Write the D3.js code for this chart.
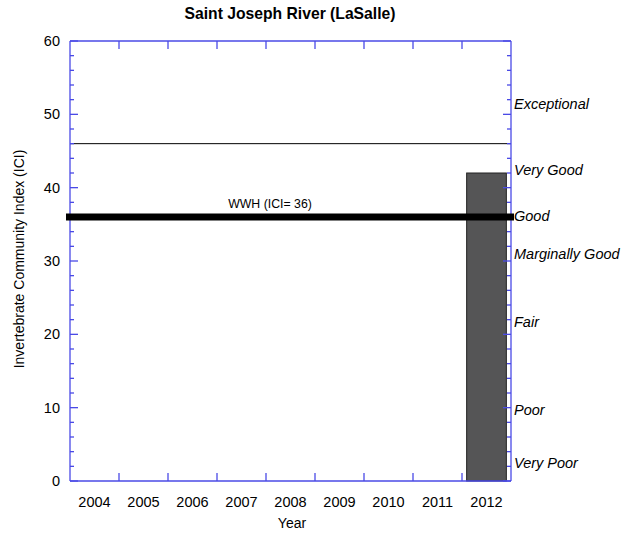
<!DOCTYPE html>
<html>
<head>
<meta charset="utf-8">
<script src="https://cdn.jsdelivr.net/npm/d3@7"></script>
<style>
body { margin: 0; background: #fff; font-family: "Liberation Sans", Arial, sans-serif; }
text { font-family: "Liberation Sans", Arial, sans-serif; }
</style>
</head>
<body>
<div id="chart"></div>
<script>
var years = ["2004", "2005", "2006", "2007", "2008", "2009", "2010", "2011", "2012"];
var iciValues = [null, null, null, null, null, null, null, null, 42];
var yTicks = [0, 10, 20, 30, 40, 50, 60];
var wwhValue = 36;
var exceptionalLine = 46;
var ratingLabels = ["Exceptional", "Very Good", "Good", "Marginally Good", "Fair", "Poor", "Very Poor"];
var ratingValues = [51.4, 42.4, 36.1, 31, 21.7, 9.7, 2.5];

var margin = {top: 41, right: 113, bottom: 59, left: 70},
    width = 624 - margin.left - margin.right,
    height = 540 - margin.top - margin.bottom;

var axisColor = "#4a4ae6";

var svg = d3.select("#chart").append("svg")
    .attr("width", 624)
    .attr("height", 540);

var g = svg.append("g")
    .attr("transform", "translate(" + margin.left + "," + margin.top + ")");

var x = d3.scaleBand()
    .domain(years)
    .range([0, width])
    .paddingInner(0)
    .paddingOuter(0);

var y = d3.scaleLinear()
    .domain([0, 60])
    .range([height, 0]);

// title
svg.append("text")
    .attr("x", 290)
    .attr("y", 19)
    .attr("text-anchor", "middle")
    .style("font-size", "15.7px")
    .style("font-weight", "bold")
    .text("Saint Joseph River (LaSalle)");

// bars
var bw = x.bandwidth() * 0.81;
g.selectAll(".bar")
    .data(years.map(function(d, i) { return {year: d, v: iciValues[i]}; })
      .filter(function(d) { return d.v != null; }))
  .enter().append("rect")
    .attr("class", "bar")
    .attr("x", function(d) { return x(d.year) + (x.bandwidth() - bw) / 2; })
    .attr("y", function(d) { return y(d.v); })
    .attr("width", bw)
    .attr("height", function(d) { return height - y(d.v); })
    .attr("fill", "#555556")
    .attr("stroke", "#222")
    .attr("stroke-width", 1);

// exceptional threshold line
g.append("line")
    .attr("x1", 0).attr("x2", width)
    .attr("y1", y(exceptionalLine)).attr("y2", y(exceptionalLine))
    .attr("stroke", "#000")
    .attr("stroke-width", 1);

// axes frame: left/right with minor ticks, top/bottom with band boundaries
var minor = d3.range(0, 61, 2);
function yTickGroup(xpos, dir) {
    var ag = g.append("g");
    ag.append("line")
        .attr("x1", xpos).attr("x2", xpos)
        .attr("y1", 0).attr("y2", height)
        .attr("stroke", axisColor).attr("stroke-width", 1.3);
    ag.selectAll("line.t")
        .data(minor)
      .enter().append("line")
        .attr("class", "t")
        .attr("x1", xpos)
        .attr("x2", function(d) { return xpos + dir * (d % 10 === 0 ? 8 : 4); })
        .attr("y1", function(d) { return y(d); })
        .attr("y2", function(d) { return y(d); })
        .attr("stroke", axisColor).attr("stroke-width", 1.3);
}
yTickGroup(0, 1);
yTickGroup(width, -1);

var bounds = years.slice(1).map(function(d) { return x(d); });
[0, height].forEach(function(ypos, k) {
    var ag = g.append("g");
    ag.append("line")
        .attr("x1", 0).attr("x2", width)
        .attr("y1", ypos).attr("y2", ypos)
        .attr("stroke", axisColor).attr("stroke-width", 1.3);
    ag.selectAll("line.t")
        .data(bounds)
      .enter().append("line")
        .attr("class", "t")
        .attr("x1", function(d) { return d; })
        .attr("x2", function(d) { return d; })
        .attr("y1", ypos)
        .attr("y2", ypos + (k === 0 ? 8 : -8))
        .attr("stroke", axisColor).attr("stroke-width", 1.3);
});

// y tick labels
g.selectAll(".ylab")
    .data(yTicks)
  .enter().append("text")
    .attr("class", "ylab")
    .attr("x", -10)
    .attr("y", function(d) { return y(d); })
    .attr("dy", "0.35em")
    .attr("text-anchor", "end")
    .style("font-size", "14.5px")
    .text(function(d) { return d; });

// x tick labels
g.selectAll(".xlab")
    .data(years)
  .enter().append("text")
    .attr("class", "xlab")
    .attr("x", function(d) { return x(d) + x.bandwidth() / 2; })
    .attr("y", height + 26)
    .attr("text-anchor", "middle")
    .style("font-size", "14.5px")
    .text(function(d) { return d; });

// WWH criterion line
g.append("line")
    .attr("x1", -4).attr("x2", width + 3)
    .attr("y1", y(wwhValue)).attr("y2", y(wwhValue))
    .attr("stroke", "#000")
    .attr("stroke-width", 7);

g.append("text")
    .attr("x", 200)
    .attr("y", y(wwhValue) - 9)
    .attr("text-anchor", "middle")
    .style("font-size", "12.3px")
    .text("WWH (ICI= " + wwhValue + ")");

// rating labels on right
g.selectAll(".rlab")
    .data(ratingLabels)
  .enter().append("text")
    .attr("class", "rlab")
    .attr("x", width + 3)
    .attr("y", function(d, i) { return y(ratingValues[i]); })
    .attr("dy", "0.35em")
    .style("font-size", "14.5px")
    .style("font-style", "italic")
    .text(function(d) { return d; });

// axis titles
svg.append("text")
    .attr("transform", "translate(24," + 259 + ") rotate(-90)")
    .attr("text-anchor", "middle")
    .style("font-size", "14px")
    .text("Invertebrate Community Index (ICI)");

svg.append("text")
    .attr("x", 292)
    .attr("y", 528)
    .attr("text-anchor", "middle")
    .style("font-size", "14px")
    .text("Year");
</script>
</body>
</html>
